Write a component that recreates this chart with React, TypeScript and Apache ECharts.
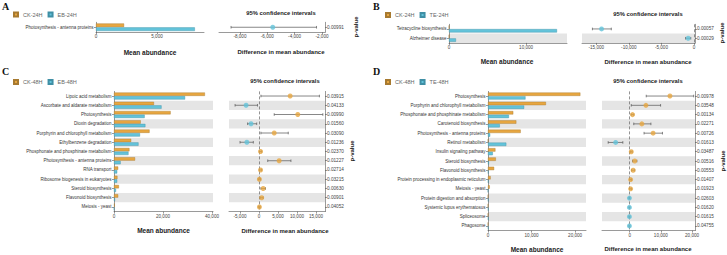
import React, { useEffect, useRef } from "react";
import * as echarts from "echarts";

// ---------- DATA ----------
const catsA = ["Photosynthesis - antenna proteins"];
const ckA = [2300];
const trA = [8100];
const diffA = [-5600];
const lowA = [-8650];
const highA = [-2400];
const pA = ["0.00991"];
const barTicksA = [0, 5000];
const ciTicksA = [-8000, -6000, -4000, -2000];

const catsB = ["Tetracycline biosynthesis", "Alzheimer disease"];
const ckB = [0, 0];
const trB = [14000, 900];
const diffB = [-14200, -900];
const lowB = [-15600, -1300];
const highB = [-12700, -500];
const pB = ["0.00057", "0.00029"];
const barTicksB = [0, 10000];
const ciTicksB = [-15000, -10000, -5000, 0];

const catsC = [
  "Lipoic acid metabolism",
  "Ascorbate and aldarate metabolism",
  "Photosynthesis",
  "Dioxin degradation",
  "Porphyrin and chlorophyll metabolism",
  "Ethylbenzene degradation",
  "Phosphonate and phosphinate metabolism",
  "Photosynthesis - antenna proteins",
  "RNA transport",
  "Ribosome biogenesis in eukaryotes",
  "Steroid biosynthesis",
  "Flavonoid biosynthesis",
  "Meiosis - yeast",
];
const ckC = [37100, 16300, 23100, 10900, 14500, 7000, 6300, 8600, 1700, 1400, 2000, 1700, 300];
const trC = [29000, 19400, 12500, 12800, 10600, 10000, 5900, 2700, 1300, 1300, 800, 400, 100];
const diffC = [8200, -3400, 10200, -2100, 4000, -3200, 400, 5300, 400, 100, 1100, 700, 100];
const lowC = [500, -6300, 4000, -3000, 500, -5000, 100, 2300, 100, -200, 500, 300, -100];
const highC = [15900, -400, 16800, -600, 7700, -1500, 700, 8400, 700, 400, 1700, 1100, 300];
const pC = ["0.03915", "0.04133", "0.00990", "0.01560", "0.03090", "0.01236", "0.02370", "0.01227", "0.02714", "0.03215", "0.00630", "0.00901", "0.04052"];
const barTicksC = [0, 20000, 40000];
const ciTicksC = [-5000, 0, 5000, 10000, 15000];

const catsD = [
  "Photosynthesis",
  "Porphyrin and chlorophyll metabolism",
  "Phosphonate and phosphinate metabolism",
  "Carotenoid biosynthesis",
  "Photosynthesis - antenna proteins",
  "Retinol metabolism",
  "Insulin signaling pathway",
  "Steroid biosynthesis",
  "Flavonoid biosynthesis",
  "Protein processing in endoplasmic reticulum",
  "Meiosis - yeast",
  "Protein digestion and absorption",
  "Systemic lupus erythematosus",
  "Spliceosome",
  "Phagosome",
];
const ckD = [21200, 13300, 5800, 6500, 7500, 50, 1700, 1800, 1400, 600, 400, 0, 0, 0, 0];
const trD = [8600, 8300, 4800, 2700, 500, 4200, 1100, 200, 100, 100, 0, 100, 100, 100, 100];
const diffD = [12900, 5200, 900, 3900, 7500, -4500, 500, 1600, 1100, 300, 300, -100, -100, -100, -100];
const lowD = [5300, 500, 500, 1300, 4600, -6900, 200, 900, 600, 0, 0, -300, -300, -300, -300];
const highD = [20500, 9900, 1300, 6800, 10500, -2200, 800, 2300, 1600, 600, 600, 100, 100, 100, 100];
const pD = ["0.00978", "0.03548", "0.00134", "0.02271", "0.00726", "0.01613", "0.03487", "0.00516", "0.00553", "0.01407", "0.01923", "0.02603", "0.01620", "0.01615", "0.04755"];
const barTicksD = [0, 10000, 20000];
const ciTicksD = [0, 10000, 20000];

const letters = ["A", "B", "C", "D"];
const groupNames = [
  ["CK-24H", "EB-24H"],
  ["CK-24H", "TE-24H"],
  ["CK-48H", "EB-48H"],
  ["CK-48H", "TE-48H"],
];

// ---------- STYLE / LAYOUT ----------
const ORANGE = "#E7A640";
const BLUE = "#63C3DA";
const BAND = "#E5E5E5";
const FONT = "'Liberation Sans', Arial, sans-serif";
const AXIS = "#555";

const LAYOUT = [
  { bar: [96, 22.3, 108, 9.9], ci: [219, 22.3, 106, 9.9], barMax: 8850, ciMin: -9530, ciMax: -1780, zero: false, legend: [13, 11.5], letter: [2, 1], t95: [281, 13], tMean: [150, 52], tDiff: [281, 52], pv: [356, 27] },
  { bar: [449, 24.3, 118, 18.6], ci: [582, 24.3, 113, 18.6], barMax: 15300, ciMin: -17200, ciMax: 150, zero: true, legend: [385, 12], letter: [373, 1], t95: [648, 14], tMean: [507, 61.5], tDiff: [648, 61.5], pv: [722, 33] },
  { bar: [114, 91.4, 99, 120.2], ci: [229, 91.4, 96, 120.2], barMax: 40400, ciMin: -7900, ciMax: 17370, zero: true, legend: [13, 79], letter: [2, 66], t95: [285, 81], tMean: [163.5, 230.5], tDiff: [285, 230.5], pv: [352, 151] },
  { bar: [488, 91.4, 98, 139.2], ci: [602, 91.4, 93, 139.2], barMax: 22500, ciMin: -8880, ciMax: 20930, zero: true, legend: [385, 79], letter: [373, 66], t95: [648, 81], tMean: [537, 249], tDiff: [648, 249], pv: [723, 161] },
];

const PANELS = [
  { cats: catsA, ck: ckA, tr: trA, diff: diffA, low: lowA, high: highA, p: pA, barTicks: barTicksA, ciTicks: ciTicksA },
  { cats: catsB, ck: ckB, tr: trB, diff: diffB, low: lowB, high: highB, p: pB, barTicks: barTicksB, ciTicks: ciTicksB },
  { cats: catsC, ck: ckC, tr: trC, diff: diffC, low: lowC, high: highC, p: pC, barTicks: barTicksC, ciTicks: ciTicksC },
  { cats: catsD, ck: ckD, tr: trD, diff: diffD, low: lowD, high: highD, p: pD, barTicks: barTicksD, ciTicks: ciTicksD },
];

const fmt = (v: number) => v.toLocaleString("en-US");

function buildOption() {
  const grid: any[] = [];
  const xAxis: any[] = [];
  const yAxis: any[] = [];
  const series: any[] = [];
  const legend: any[] = [];
  const graphic: any[] = [];

  PANELS.forEach((P, k) => {
    const L = LAYOUT[k];
    const gBar = grid.length;
    grid.push({ left: L.bar[0], top: L.bar[1], width: L.bar[2], height: L.bar[3], containLabel: false });
    const gCi = grid.length;
    grid.push({ left: L.ci[0], top: L.ci[1], width: L.ci[2], height: L.ci[3], containLabel: false });

    const tickLabel = { fontSize: 4.6, color: "#444", fontFamily: FONT, margin: 2 };

    const xBar = xAxis.length;
    xAxis.push({
      type: "value", gridIndex: gBar, min: 0, max: L.barMax,
      axisLine: { show: true, lineStyle: { color: AXIS, width: 0.6 } },
      axisTick: { show: true, length: 2, lineStyle: { color: AXIS, width: 0.6 }, customValues: P.barTicks },
      axisLabel: { ...tickLabel, customValues: P.barTicks, formatter: (v: number) => fmt(v) },
      splitLine: { show: false },
    });
    const xCi = xAxis.length;
    xAxis.push({
      type: "value", gridIndex: gCi, min: L.ciMin, max: L.ciMax,
      axisLine: { show: true, onZero: false, lineStyle: { color: AXIS, width: 0.6 } },
      axisTick: { show: true, length: 2, lineStyle: { color: AXIS, width: 0.6 }, customValues: P.ciTicks },
      axisLabel: { ...tickLabel, customValues: P.ciTicks, formatter: (v: number) => fmt(v) },
      splitLine: { show: false },
    });

    const split = { show: true, interval: 0, areaStyle: { color: ["rgba(255,255,255,0)", BAND] } };
    const yBar = yAxis.length;
    yAxis.push({
      type: "category", gridIndex: gBar, data: P.cats, inverse: true,
      axisLine: { show: true, lineStyle: { color: AXIS, width: 0.6 } },
      axisTick: { show: true, length: 2, alignWithLabel: true, lineStyle: { color: AXIS, width: 0.6 } },
      axisLabel: { fontSize: 4.5, color: "#333", fontFamily: FONT, margin: 2.5 },
      splitArea: split,
    });
    const yCi = yAxis.length;
    yAxis.push({
      type: "category", gridIndex: gCi, data: P.cats, inverse: true,
      axisLine: { show: false }, axisTick: { show: false }, axisLabel: { show: false },
      splitArea: split,
    });
    const yP = yAxis.length;
    yAxis.push({
      type: "category", gridIndex: gCi, data: P.p, inverse: true, position: "right",
      axisLine: { show: true, lineStyle: { color: AXIS, width: 0.6 } },
      axisTick: { show: true, length: 2, alignWithLabel: true, lineStyle: { color: AXIS, width: 0.6 } },
      axisLabel: { fontSize: 4.7, color: "#444", fontFamily: FONT, margin: 2 },
    });

    const [n1, n2] = groupNames[k];
    series.push({
      type: "bar", name: n1, xAxisIndex: xBar, yAxisIndex: yBar, data: P.ck,
      itemStyle: { color: ORANGE, borderColor: "#A77A30", borderWidth: 0.4 },
      barCategoryGap: "24%", barGap: "8%",
    });
    series.push({
      type: "bar", name: n2, xAxisIndex: xBar, yAxisIndex: yBar, data: P.tr,
      itemStyle: { color: BLUE, borderColor: "#3F8FA5", borderWidth: 0.4 },
      barCategoryGap: "24%", barGap: "8%",
    });
    series.push({
      type: "custom", name: "ci" + k, xAxisIndex: xCi, yAxisIndex: yCi,
      data: P.cats.map((_, i) => [P.low[i], P.high[i], i]),
      encode: { x: [0, 1], y: 2 },
      renderItem: (params: any, api: any) => {
        const lo = api.coord([api.value(0), api.value(2)]);
        const hi = api.coord([api.value(1), api.value(2)]);
        const h = 1.3;
        const style = { stroke: "#555", lineWidth: 0.7 };
        return {
          type: "group",
          children: [
            { type: "line", shape: { x1: lo[0], y1: lo[1], x2: hi[0], y2: hi[1] }, style },
            { type: "line", shape: { x1: lo[0], y1: lo[1] - h, x2: lo[0], y2: lo[1] + h }, style },
            { type: "line", shape: { x1: hi[0], y1: hi[1] - h, x2: hi[0], y2: hi[1] + h }, style },
          ],
        };
      },
    });
    series.push({
      type: "scatter", name: "diff" + k, xAxisIndex: xCi, yAxisIndex: yCi,
      symbolSize: 5,
      data: P.diff.map((d, i) => ({ value: [d, i], itemStyle: { color: d > 0 ? ORANGE : BLUE } })),
      markLine: L.zero
        ? { silent: true, symbol: "none", label: { show: false }, lineStyle: { color: "#666", type: [3, 2], width: 0.7 }, data: [{ xAxis: 0 }] }
        : undefined,
      z: 5,
    });

    legend.push({
      left: L.legend[0], top: L.legend[1], orient: "horizontal",
      data: [n1, n2], icon: "rect", itemWidth: 4, itemHeight: 4, itemGap: 5,
      textStyle: { fontSize: 5.5, color: "#666", fontFamily: FONT },
      padding: 0, selectedMode: false,
    });

    const titleStyle = (size: number) => ({ fill: "#222", font: `bold ${size}px ${FONT}`, align: "center", verticalAlign: "middle" });
    graphic.push(
      { type: "text", x: L.letter[0], y: L.letter[1], style: { text: letters[k], fill: "#111", font: "bold 10px 'Liberation Serif', serif" } },
      { type: "text", x: L.t95[0], y: L.t95[1], style: { text: "95% confidence intervals", ...titleStyle(5.8) } },
      { type: "text", x: L.tMean[0], y: L.tMean[1], style: { text: "Mean abundance", ...titleStyle(6.5) } },
      { type: "text", x: L.tDiff[0], y: L.tDiff[1], style: { text: "Difference in mean abundance", ...titleStyle(6) } },
      { type: "text", x: L.pv[0], y: L.pv[1], rotation: Math.PI / 2, style: { text: "p-value", ...titleStyle(6) } },
    );
  });

  return {
    animation: false,
    backgroundColor: "#ffffff",
    textStyle: { fontFamily: FONT },
    grid, xAxis, yAxis, series, legend, graphic,
  };
}

export default function App() {
  const ref = useRef<HTMLDivElement>(null);
  useEffect(() => {
    if (!ref.current) return;
    const chart = echarts.init(ref.current, undefined, { renderer: "svg" });
    chart.setOption(buildOption() as any);
    return () => chart.dispose();
  }, []);
  return <div ref={ref} style={{ position: "fixed", left: 0, top: 0, width: 727, height: 255, background: "#fff" }} />;
}
